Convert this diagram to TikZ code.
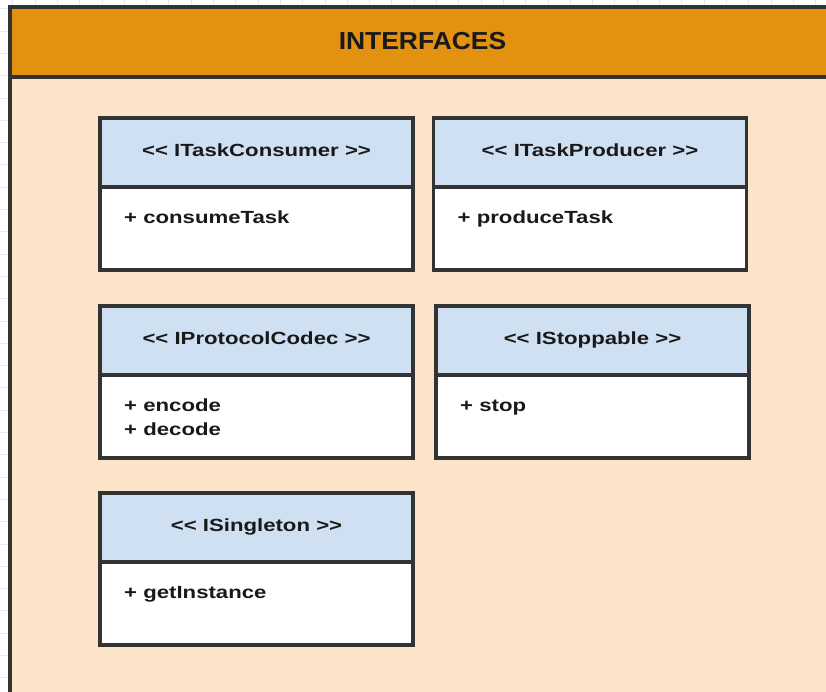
\documentclass[tikz,border=0pt]{standalone}
\usepackage{fontspec}
\setmainfont{Liberation Sans}
\newfontfamily\classfont[FakeStretch=1.26,Ligatures=NoCommon]{Liberation Sans}
\newfontfamily\titlefont[FakeStretch=1.075]{Liberation Sans}
\definecolor{gridcol}{RGB}{232,232,248}
\definecolor{hdrorange}{RGB}{227,145,16}
\definecolor{bodypeach}{RGB}{252,228,200}
\definecolor{clsblue}{RGB}{207,224,243}
\definecolor{edge}{RGB}{51,51,51}
\definecolor{ink}{RGB}{25,25,25}
\tikzset{
  frame/.style={draw=edge, line width=3.1pt},
  clshdr/.style={frame, fill=clsblue, anchor=north west, minimum width=313pt, minimum height=69pt, inner sep=0pt, outer sep=0pt},
  clsbody/.style={frame, fill=white, anchor=north west, minimum width=313pt, minimum height=83pt, inner sep=0pt, outer sep=0pt},
  clsname/.style={anchor=base, inner sep=0pt, text=ink, font=\classfont\bfseries\fontsize{17.6}{20}\selectfont},
  clsmeth/.style={anchor=base west, inner sep=0pt, text=ink, font=\classfont\bfseries\fontsize{17.6}{24}\selectfont},
}
\newcommand{\umlcls}[6]{%
  % #1 id, #2 x, #3 y, #4 header height, #5 title, #6 methods (hbox lines)
  \node[clsbody] (#1b) at (#2,#3+#4) {};
  \node[clshdr, minimum height=#4pt] (#1h) at (#2,#3) {};
  \node[clsname] (#1n) at ([yshift=-38pt]#1h.north) {<\kern0pt< #5 >\kern0pt>};
  \node[clsmeth] (#1m) at ([xshift=24pt,yshift=-36pt]#1b.north west) {\vtop{#6}};
}
\begin{document}
\begin{tikzpicture}[x=1pt,y=-1pt]
\useasboundingbox (0,0) rectangle (826,691);
\clip (0,0) rectangle (826,691);
\fill[white] (0,0) rectangle (826,691);
\foreach \gx in {12.7,35,...,826} \draw[gridcol, line width=0.8pt] (\gx,0) -- (\gx,691);
\foreach \gy in {8.7,31,...,691} \draw[gridcol, line width=0.8pt] (0,\gy) -- (826,\gy);
% container
\fill[bodypeach] (10,7) rectangle (840,700);
\filldraw[frame, fill=hdrorange] (10,7) rectangle (840,77);
\draw[frame] (10,77) -- (10,700);
\node[anchor=base, inner sep=0pt, text=ink, font=\titlefont\bfseries\fontsize{24.6}{28}\selectfont] (title) at (422.5,49.3) {INTERFACES};
% classes
\umlcls{tc}{100}{118}{69}{ITaskConsumer}{\hbox{+ consumeTask}}
\umlcls{tp}{433.5}{118}{69}{ITaskProducer}{\hbox{+ produceTask}}
\umlcls{pc}{100}{306}{69}{IProtocolCodec}{\hbox{+ encode}\hbox{+ decode}}
\umlcls{st}{436}{306}{69}{IStoppable}{\hbox{+ stop}}
\umlcls{si}{100}{493}{69}{ISingleton}{\hbox{+ getInstance}}
\end{tikzpicture}
\end{document}
